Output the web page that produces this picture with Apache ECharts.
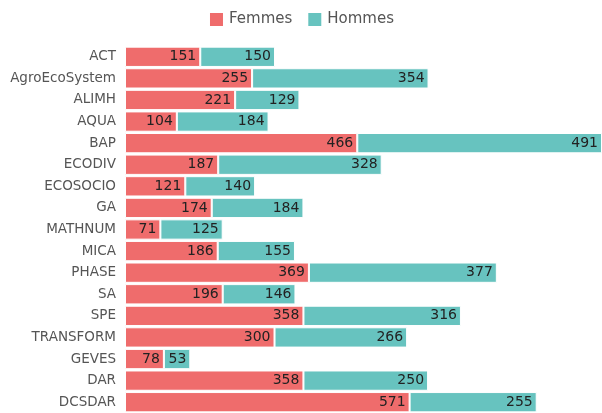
<!DOCTYPE html>
<html lang="fr">
<head>
    <meta charset="UTF-8">
    <title>Femmes / Hommes</title>
    <script src="https://cdn.jsdelivr.net/npm/echarts@6/dist/echarts.min.js"></script>
    <style>
        html, body { margin: 0; padding: 0; background: #fff; }
    </style>
</head>
<body>
    <div id="chart" style="width: 602px;height: 413px"></div>

    <script>
        // données
        var categories = ['ACT', 'AgroEcoSystem', 'ALIMH', 'AQUA', 'BAP', 'ECODIV', 'ECOSOCIO', 'GA',
            'MATHNUM', 'MICA', 'PHASE', 'SA', 'SPE', 'TRANSFORM', 'GEVES', 'DAR', 'DCSDAR'];
        var femmes = [151, 255, 221, 104, 466, 187, 121, 174, 71, 186, 369, 196, 358, 300, 78, 358, 571];
        var hommes = [150, 354, 129, 184, 491, 328, 140, 184, 125, 155, 377, 146, 316, 266, 53, 250, 255];

        var font = 'DejaVu Sans';
        var myChart = echarts.init(document.getElementById('chart'));

        function serie(name, data, color) {
            return {
                name: name,
                type: 'bar',
                stack: 'total',
                data: data,
                barCategoryGap: '6%',
                itemStyle: { color: color, borderColor: '#fff', borderWidth: 1 },
                label: {
                    show: true,
                    position: 'insideRight',
                    distance: 4,
                    color: '#222',
                    fontFamily: font,
                    fontSize: 14
                }
            };
        }

        var option = {
            animation: false,
            legend: {
                top: 6,
                left: 'center',
                itemWidth: 15,
                itemHeight: 15,
                itemGap: 14,
                icon: 'rect',
                textStyle: { color: '#555', fontFamily: font, fontSize: 15 }
            },
            grid: { left: 125, top: 46, width: 477, height: 372 },
            xAxis: {
                type: 'value',
                min: 0,
                max: 957,
                show: false
            },
            yAxis: {
                type: 'category',
                data: categories,
                inverse: true,
                axisLine: { show: false },
                axisTick: { show: false },
                axisLabel: { color: '#555', fontFamily: font, fontSize: 13.5, margin: 9 }
            },
            series: [
                serie('Femmes', femmes, '#ef6c6c'),
                serie('Hommes', hommes, '#67c3bf')
            ]
        };

        myChart.setOption(option);
    </script>
</body>
</html>
